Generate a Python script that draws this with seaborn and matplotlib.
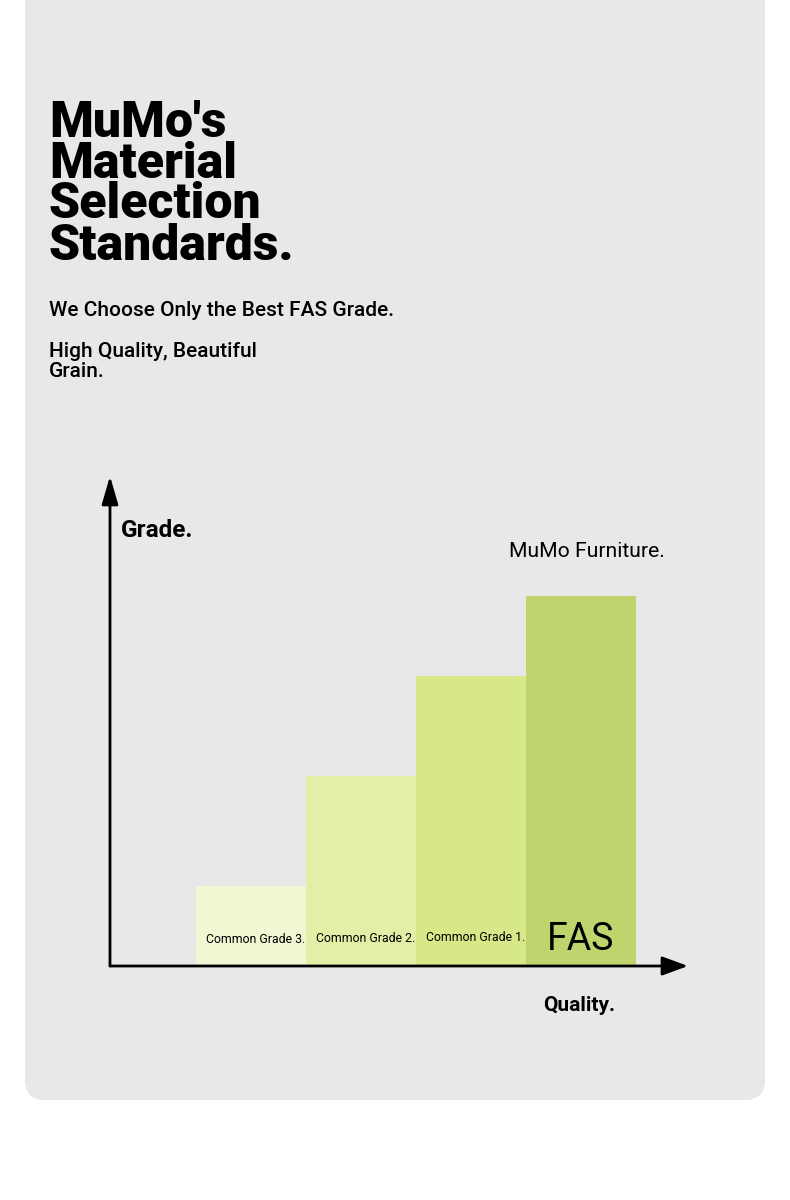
import matplotlib
matplotlib.use("Agg")
import matplotlib.pyplot as plt
from matplotlib.patches import FancyBboxPatch
import seaborn as sns

# bar data (grade level, arbitrary units)
grades = ["Common Grade 3.", "Common Grade 2.", "Common Grade 1.", "FAS"]
levels = [0.80, 1.90, 2.90, 3.70]
bar_colors = ["#f0f7d3", "#e2efa6", "#d7e888", "#bfd46d"]

title_lines = ["MuMo's", "Material", "Selection", "Standards."]
subtitle = "We Choose Only the Best FAS Grade."
subtitle2 = ["High Quality, Beautiful", "Grain."]

W, H = 790, 1200
sns.set_theme(style="white")
plt.rcParams["font.family"] = ["Roboto", "DejaVu Sans"]
plt.rcParams["text.color"] = "black"

fig = plt.figure(figsize=(W / 100, H / 100), dpi=100)
fig.patch.set_facecolor("white")

# rounded grey card behind everything
card = FancyBboxPatch((0.25, 1.0), 7.40, 11.2,
                      boxstyle="round,pad=0,rounding_size=0.2",
                      transform=fig.dpi_scale_trans, facecolor="#e8e8e8",
                      edgecolor="none", zorder=-5)
fig.patches.append(card)


def px(x, y):
    # pixel position (from top-left) -> figure fraction
    return x / W, 1 - y / H


# title
for line, base in zip(title_lines, [137, 178, 218, 260]):
    fig.text(*px(49, base), line, fontsize=36, fontweight="black",
             va="baseline", ha="left")

fig.text(*px(49, 316), subtitle, fontsize=15, fontweight="medium",
         va="baseline", ha="left")
for line, base in zip(subtitle2, [357, 377]):
    fig.text(*px(49, base), line, fontsize=15, fontweight="medium",
             va="baseline", ha="left")

# chart area, x axis at y=966 px, y arrow tip at y=479 px
ax = fig.add_axes([110 / W, (H - 966) / H, 578 / W, (966 - 479) / H])
ax.set_facecolor("none")
sns.barplot(x=grades, y=levels, hue=grades, palette=bar_colors, width=1.0,
            saturation=1, legend=False, linewidth=0, ax=ax)
ax.set_xlim(-1.2818, 3.9727)
ax.set_ylim(0, 4.87)
for s in ax.spines.values():
    s.set_visible(False)
ax.set_xticks([])
ax.set_yticks([])
ax.set_xlabel("")
ax.set_ylabel("")

# axis arrows
ax.annotate("", xy=(0, 1.006), xytext=(0, 0), xycoords="axes fraction",
            arrowprops=dict(arrowstyle="-|>,head_length=0.86,head_width=0.25",
                            mutation_scale=20, lw=2, color="black",
                            shrinkA=0, shrinkB=0))
ax.annotate("", xy=(1, 0), xytext=(0, 0), xycoords="axes fraction",
            arrowprops=dict(arrowstyle="-|>,head_length=0.79,head_width=0.29",
                            mutation_scale=20, lw=2, color="black",
                            shrinkA=0, shrinkB=0))

# labels inside bars, the small ones sit against the right edge of their bar
for i, g in enumerate(grades):
    if g == "FAS":
        ax.text(i, 0.16, g, fontsize=27, ha="center", va="baseline")
    else:
        ax.text(i + 0.49, 0.23 + i * 0.01, g, fontsize=8.8, ha="right",
                va="baseline")

fig.text(*px(121, 537), "Grade.", fontsize=17.5, fontweight="bold",
         va="baseline", ha="left")
fig.text(*px(509, 557), "MuMo Furniture.", fontsize=15.2,
         va="baseline", ha="left")
fig.text(*px(543, 1011), "Quality.", fontsize=15, fontweight="bold",
         va="baseline", ha="left")

fig.savefig("out.png", dpi=100, facecolor="white")
